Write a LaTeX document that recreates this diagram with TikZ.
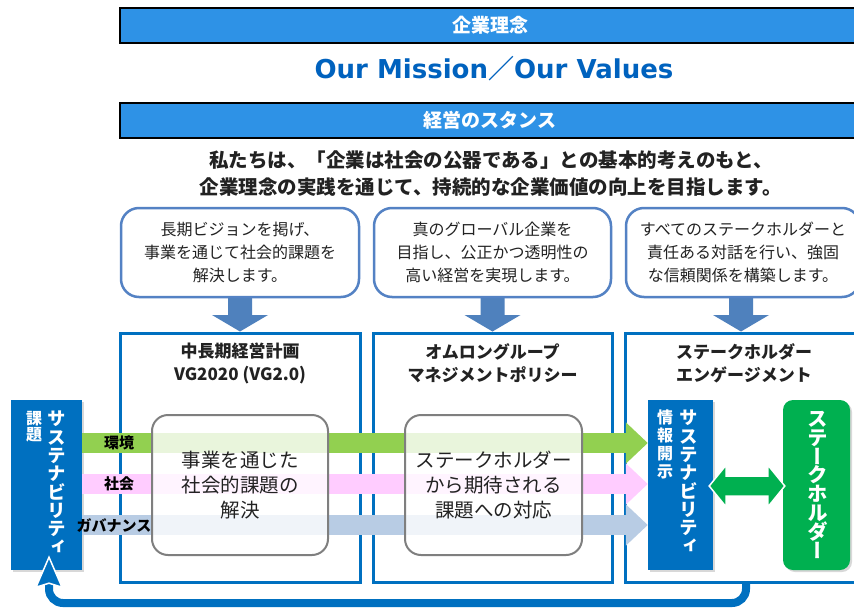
\documentclass[tikz,border=0pt]{standalone}
\usepackage{fontspec}
\setmainfont{Noto Sans CJK JP}
\newfontfamily\jp{Noto Sans CJK JP}
\newfontfamily\jpv[RawFeature=+vert]{Noto Sans CJK JP}
\newfontfamily\latn{DejaVu Sans}
\usetikzlibrary{arrows.meta,calc,shadows}
\definecolor{barblue}{RGB}{46,146,230}
\definecolor{titleblue}{RGB}{0,98,190}
\definecolor{colblue}{RGB}{0,112,192}
\definecolor{callblue}{RGB}{84,130,196}
\definecolor{arrblue}{RGB}{79,129,189}
\definecolor{bandgreen}{RGB}{146,208,80}
\definecolor{bandpink}{RGB}{255,204,255}
\definecolor{bandblue}{RGB}{184,204,228}
\definecolor{shgreen}{RGB}{0,176,80}
\definecolor{boxgray}{RGB}{127,127,127}
\definecolor{txt}{RGB}{34,34,34}
\tikzset{
  bar/.style={draw=black, line width=2pt, fill=barblue, text=white, font=\jp\bfseries\fontsize{19}{21}\selectfont, minimum height=35pt, inner sep=0pt},
  callout/.style={draw=callblue, line width=2.5pt, fill=white, rounded corners=18pt, minimum height=89pt, align=center, font=\jp\fontsize{16}{23}\selectfont, text=txt, inner sep=0pt},
  column/.style={draw=colblue, line width=3pt, minimum height=249pt, inner sep=0pt},
  colhead/.style={align=center, font=\jp\bfseries\fontsize{17}{23}\selectfont, text=txt},
  issuebox/.style={draw=boxgray, line width=2pt, fill=white, fill opacity=0.8, text opacity=1, rounded corners=16pt, minimum width=176pt, minimum height=140pt, align=center, font=\jp\fontsize{19.5}{25}\selectfont, text=txt},
  bluebox/.style={fill=colblue, minimum height=170pt, inner sep=0pt, drop shadow={shadow xshift=2pt,shadow yshift=-2pt,opacity=0.3}},
  vlabel/.style={text=white, align=center, font=\jpv\bfseries\fontsize{18.5}{18.3}\selectfont, inner sep=0pt, anchor=north},
  bandlabel/.style={font=\jp\bfseries\fontsize{15}{16}\selectfont, text=black, inner sep=1pt},
  downarrow/.style={fill=arrblue},
  band/.style={line width=20pt, -{Triangle[width=40pt,length=22pt]}},
  feedback/.style={draw=colblue, line width=8pt, rounded corners=14pt},
  feedtip/.style={fill=colblue, draw=white, line width=1.5pt, line join=miter},
}
\begin{document}
\begin{tikzpicture}[x=1pt,y=-1pt]
\useasboundingbox[fill=white] (0,0) rectangle (854,613);
% top bars
\node[bar, minimum width=740pt] (mission) at (490,25.5) {企業理念};
\node[font=\latn\bfseries\fontsize{26}{28}\selectfont, text=titleblue] (values) at (494,69) {Our Mission{\jp ／}Our Values};
\node[bar, minimum width=740pt] (stance) at (490,120.5) {経営のスタンス};
\node[font=\jp\bfseries\fontsize{19.5}{27}\selectfont, text=txt, align=center] (statement) at (491,173.5) {私たちは、「企業は社会の公器である」との基本的考えのもと、\\企業理念の実践を通じて、持続的な企業価値の向上を目指します。};
% columns
\node[column, minimum width=240pt] (col1) at (240,457.5) {};
\node[column, minimum width=239pt] (col2) at (492.5,457.5) {};
\node[column, minimum width=235pt] (col3) at (742.5,457.5) {};
\node[colhead] (h1) at (240,363.5) {中長期経営計画\\VG2020 (VG2.0)};
\node[colhead] (h2) at (492.5,363.5) {オムロングループ\\マネジメントポリシー};
\node[colhead] (h3) at (744,363.5) {ステークホルダー\\エンゲージメント};
% callouts (arrows first)
\coordinate (a1) at (240,298);
\coordinate (a2) at (492.5,298);
\coordinate (a3) at (741,298);
\foreach \a/\c in {a1/col1,a2/col2,a3/col3}{
  \fill[downarrow] ($(\a)+(-12,-4)$) -- ($(\a)+(12,-4)$) -- ($(\a)+(12,17)$) -- ($(\a)+(28,17)$) -- (\a |- \c.north) -- ($(\a)+(-28,17)$) -- ($(\a)+(-12,17)$) -- cycle;
}
\node[callout, minimum width=238pt] (c1) at (240,252.5) {長期ビジョンを掲げ、\\事業を通じて社会的課題を\\解決します。};
\node[callout, minimum width=237pt] (c2) at (492.5,252.5) {真のグローバル企業を\\目指し、公正かつ透明性の\\高い経営を実現します。};
\node[callout, minimum width=234pt] (c3) at (743,252.5) {すべてのステークホルダーと\\責任ある対話を行い、強固\\な信頼関係を構築します。};
% side boxes
\node[bluebox, minimum width=71pt] (sust) at (46.5,485) {};
\node[bluebox, minimum width=65pt] (info) at (680.5,485) {};
\node[bluebox, fill=shgreen, rounded corners=10pt, minimum width=67pt] (sh) at (816.5,485) {};
% bands
\draw[band, bandgreen] (sust.east |- 0,443) -- (info.west |- 0,443);
\draw[band, bandpink] (sust.east |- 0,484) -- (info.west |- 0,484);
\draw[band, bandblue] (sust.east |- 0,525) -- (info.west |- 0,525);
\node[bandlabel] (l1) at (119,443) {環境};
\node[bandlabel] (l2) at (119,484) {社会};
\node[bandlabel] (l3) at (114,526) {ガバナンス};
% issue boxes
\node[issuebox] (ib1) at (240,485) {事業を通じた\\社会的課題の\\解決};
\node[issuebox, minimum width=177pt] (ib2) at (493.5,485) {ステークホルダー\\から期待される\\課題への対応};
% vertical labels
\node[vlabel] (sustA) at (57,411) {サ\\ス\\テ\\ナ\\ビ\\リ\\テ\\ィ};
\node[vlabel, font=\jpv\bfseries\fontsize{16}{16}\selectfont] (sustB) at (34,411) {課\\題};
\node[vlabel] (infoA) at (689,410) {サ\\ス\\テ\\ナ\\ビ\\リ\\テ\\ィ};
\node[vlabel, font=\jpv\bfseries\fontsize{16}{18}\selectfont] (infoB) at (665,410) {情\\報\\開\\示};
\node[vlabel, font=\jpv\bfseries\fontsize{20.5}{18.8}\selectfont] (shA) at (818,411) {ス\\テ\\ー\\ク\\ホ\\ル\\ダ\\ー};
% double arrow
\coordinate (dl) at ($(info.east |- 0,486)+(-4,0)$);
\coordinate (dr) at ($(sh.west |- 0,486)+(2,0)$);
\filldraw[fill=shgreen, draw=white, line width=1.5pt] (dl) -- ($(dl)+(17,-21)$) -- ($(dl)+(17,-10)$) -- ($(dr)+(-17,-10)$) -- ($(dr)+(-17,-21)$) -- (dr) -- ($(dr)+(-17,21)$) -- ($(dr)+(-17,10)$) -- ($(dl)+(17,10)$) -- ($(dl)+(17,21)$) -- cycle;
% feedback arrow
\coordinate (ftip) at ($(sust.south -| 49,0)+(0,-13)$);
\draw[feedback] (col3.south -| 746,0) -- (746,603) -- (49,603) -- ($(ftip)+(0,24)$);
\filldraw[feedtip] (ftip) -- ($(ftip)+(13,30)$) -- ($(ftip)+(0,26)$) -- ($(ftip)+(-13,30)$) -- cycle;
\end{tikzpicture}
\end{document}
